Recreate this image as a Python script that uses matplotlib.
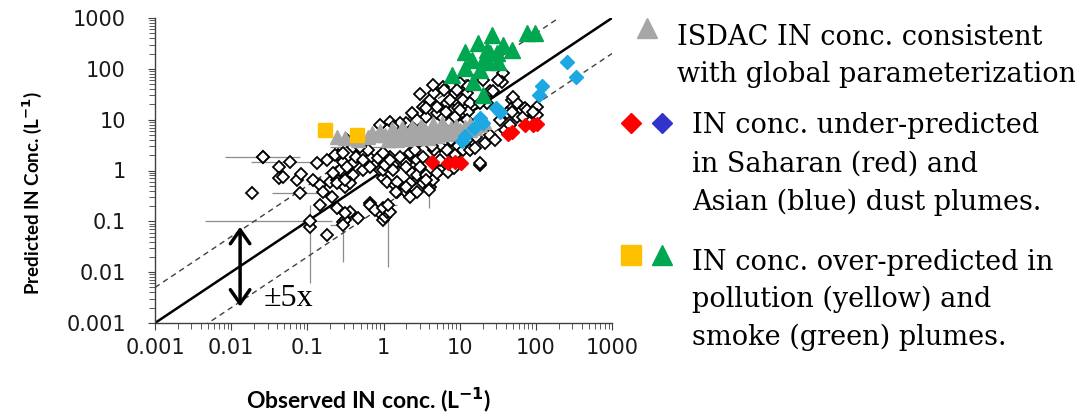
import numpy as np
import matplotlib
matplotlib.use("Agg")
import matplotlib.pyplot as plt
from matplotlib.lines import Line2D

# ---- data (observed, predicted IN conc., L^-1) ----
obs_other = [0.026, 0.043, 0.042, 0.048, 0.073, 0.082, 0.0185, 0.133, 0.18, 0.25,
             0.118, 0.146, 0.16, 0.198, 0.245, 0.268, 0.146, 0.108, 0.18, 0.29,
             0.36, 0.46, 0.70, 0.90, 0.98, 0.535, 0.362, 0.245, 0.40, 0.90,
             0.98, 0.66, 1.04, 0.31, 0.23, 0.29, 0.40, 0.216, 0.245, 0.31,
             0.36, 0.21, 0.245, 0.31, 0.66, 0.77, 1.10, 0.98, 1.10, 1.41,
             1.50, 1.91, 2.22, 2.74, 3.3, 4.06, 4.4, 2.22, 2.36, 2.74,
             3.6, 1.21, 1.64, 2.0, 2.74, 1.32, 5.5, 5.5, 0.535, 0.66,
             1.04, 1.32, 1.50, 2.0, 3.6, 5.0, 7.0, 8.3, 18.4, 0.98,
             1.21, 1.45, 6.0, 8.6, 6.9, 8.1, 4.06, 3.3, 5.0, 3.6,
             6.0, 7.4, 2.74, 2.0, 1.64, 1.21, 1.32, 1.10, 0.90, 0.33,
             0.40, 0.29, 0.44, 0.62, 0.535, 0.84, 0.98, 1.21, 1.64, 2.22,
             2.6, 3.3, 0.33, 0.66, 2.0, 3.0, 37, 36, 25, 20,
             48, 48, 56, 71, 103, 88, 56, 42, 10.1, 9.2,
             12.5, 11, 7.4, 13.6, 9.5, 12.9, 8.6, 22.7, 12.5, 32,
             12.9, 6.3, 4.6, 5.0, 3.6, 6.6, 10.1, 50, 48, 103,
             67, 18.4, 27, 2.4, 3.3, 18.4, 16.6, 24.9, 12.5, 6.3,
             7.8, 9.5, 11, 13.6, 5.5, 4.6, 6.9, 8.6, 3.9, 4.3,
             15.8, 21.4, 29, 39, 45.6, 33.7, 76, 91, 4.4, 3.0]
pred_other = [1.85, 1.18, 0.71, 0.74, 0.65, 0.86, 0.36, 1.42, 1.62, 2.0,
              0.65, 0.52, 0.375, 0.59, 0.74, 1.03, 0.21, 0.078, 0.054, 0.098,
              0.15, 0.117, 0.195, 0.149, 0.107, 1.03, 0.82, 0.65, 0.82, 1.03,
              0.71, 0.227, 0.122, 0.107, 2.0, 1.48, 1.42, 0.90, 0.57, 0.47,
              0.57, 0.30, 0.186, 0.149, 0.21, 0.17, 0.155, 1.03, 0.59, 0.52,
              0.375, 0.39, 0.30, 0.375, 0.57, 0.47, 0.65, 0.57, 0.90, 0.82,
              0.82, 1.85, 1.48, 1.42, 1.62, 1.29, 1.03, 1.62, 2.19, 1.77,
              1.29, 1.03, 0.59, 0.47, 0.65, 0.90, 0.94, 1.13, 1.29, 0.186,
              0.155, 0.375, 43, 34, 21, 15.6, 24.5, 17.8, 13.6, 11.3,
              10.8, 9.0, 9.9, 8.65, 8.65, 9.05, 7.2, 6.3, 7.9, 4.0,
              2.86, 2.19, 1.85, 2.5, 1.62, 1.77, 2.19, 1.62, 1.85, 2.19,
              2.5, 1.85, 1.18, 1.18, 1.18, 1.18, 84, 56, 36, 61,
              24.5, 17, 21, 17, 18, 13.6, 11.3, 13.6, 53, 38,
              34, 24.5, 24.5, 21.4, 17, 14.3, 11.3, 21.4, 9.9, 61,
              45, 39, 34, 17.8, 17, 14.3, 15.6, 28, 14.3, 12.4,
              11.3, 21.4, 36, 13.6, 6.3, 1.42, 4.6, 5.0, 4.0, 5.0,
              4.0, 3.1, 2.5, 2.5, 3.1, 2.5, 2.5, 2.0, 4.0, 3.1,
              2.74, 3.5, 4.0, 6.3, 7.9, 9.9, 15.6, 14.3, 49, 32]

# points with error bars (observed, predicted, ranges)
err_obs = [0.026, 0.059, 0.080, 0.108, 0.29, 1.14, 3.9, 0.49, 0.31]
err_pred = [1.85, 1.48, 0.36, 0.10, 0.085, 0.21, 0.41, 2.9, 0.65]
err_obs_lo = [0.0083, 0.018, 0.034, 0.0045, 0.20, 1.04, 3.9, 0.20, 0.20]
err_obs_hi = [0.080, 0.133, 0.198, 0.21, 0.31, 1.50, 3.9, 1.41, 0.42]
err_pred_lo = [1.85, 1.48, 0.36, 0.0061, 0.016, 0.0126, 0.18, 2.9, 0.65]
err_pred_hi = [1.85, 1.48, 0.36, 0.21, 0.117, 0.29, 0.60, 2.9, 0.65]

# ISDAC (gray triangles)
obs_isdac = [0.245, 0.40, 0.62, 0.84, 1.04, 1.21, 1.41, 1.64, 1.91, 2.22,
             2.6, 3.0, 3.5, 3.8, 4.4, 4.9, 5.5, 6.2, 6.9, 7.8,
             8.9, 10.1, 11.7, 13.6, 15.8, 18.4, 20.8, 1.16, 1.5, 2.0,
             2.74, 3.8, 5.1, 6.6, 8.3, 11, 13.6, 0.90, 1.29, 1.76,
             2.36, 3.15, 4.4, 5.9, 0.70, 0.50, 0.31, 0.46]
pred_isdac = [4.6, 4.6, 4.6, 5.0, 5.0, 4.6, 5.5, 4.8, 5.75, 5.0,
              6.0, 5.25, 6.3, 5.0, 6.6, 5.5, 6.3, 7.2, 6.0, 6.9,
              7.5, 6.3, 7.2, 8.3, 6.9, 7.9, 9.0, 4.0, 4.0, 4.2,
              4.4, 4.4, 4.8, 5.25, 5.5, 5.75, 6.3, 6.0, 6.6, 6.9,
              7.2, 7.5, 8.3, 8.65, 5.5, 4.8, 4.4, 4.0]

# Saharan dust (red diamonds)
obs_sahara = [4.3, 7.0, 8.6, 10.4, 43, 48, 72, 91, 103]
pred_sahara = [1.48, 1.41, 1.48, 1.41, 5.25, 5.75, 7.9, 7.9, 8.3]

# Asian dust (blue diamonds)
obs_asia = [255, 335, 120, 110, 29.9, 33.7, 18.4, 20.1, 15.3, 11.7, 10.7]
pred_asia = [137, 70, 46, 31, 17, 14.3, 10.8, 8.6, 6.9, 4.8, 3.8]

# pollution (yellow squares)
obs_pollution = [0.17, 0.45]
pred_pollution = [6.3, 5.0]

# smoke (green triangles)
obs_smoke = [76, 97, 26.5, 17.3, 11.7, 22.7, 36.9, 48.4, 14.5, 21.4,
             30.8, 31.7, 11.7, 18.4, 7.9, 14.9, 20.1, 24.9, 23.4]
pred_smoke = [512, 512, 467, 325, 216, 237, 297, 237, 150, 172,
              206, 137, 105, 96, 76, 55, 31, 206, 137]

# reference lines: 1:1 and factor of 5
line_x = [1e-3, 1e3]
factor = 5

tick_vals = [1e-3, 1e-2, 1e-1, 1, 10, 100, 1000]
tick_labels = ["0.001", "0.01", "0.1", "1", "10", "100", "1000"]

GRAY = "#a6a6a6"
GREEN = "#00a650"
RED = "#ff0000"
LBLUE = "#1ca8e3"
DBLUE = "#3333cc"
YELLOW = "#ffc000"

fig = plt.figure(figsize=(10.75, 4.17), dpi=100)
W, H = 1075, 417
ax = fig.add_axes([155 / W, 94 / H, 457 / W, 305 / H])
ax.set_xscale("log")
ax.set_yscale("log")
ax.set_xlim(1e-3, 1e3)
ax.set_ylim(1e-3, 1e3)

# reference lines
lx = np.array(line_x)
ax.plot(lx, lx, color="black", lw=1.8, zorder=2)
ax.plot(lx, lx * factor, color="#404040", lw=1.0, ls=(0, (4, 3)), zorder=2)
ax.plot(lx, lx / factor, color="#404040", lw=1.0, ls=(0, (4, 3)), zorder=2)

# error bars
eo = np.array(err_obs)
ep = np.array(err_pred)
xerr = [eo - np.array(err_obs_lo), np.array(err_obs_hi) - eo]
yerr = [ep - np.array(err_pred_lo), np.array(err_pred_hi) - ep]
ax.errorbar(eo, ep, xerr=xerr, yerr=yerr, fmt="none", ecolor="#8c8c8c",
            elinewidth=0.9, capsize=0, zorder=1)

# black open diamonds
ax.plot(obs_other + err_obs, pred_other + err_pred, ls="none", marker="D",
        ms=6.3, mfc="white", mec="black", mew=1.3, zorder=3)

ax.plot(obs_isdac, pred_isdac, ls="none", marker="^", ms=10.5, color=GRAY,
        mec=GRAY, zorder=4)
ax.plot(obs_sahara, pred_sahara, ls="none", marker="D", ms=7, color=RED,
        mec=RED, zorder=4)
ax.plot(obs_asia, pred_asia, ls="none", marker="D", ms=7, color=LBLUE,
        mec=LBLUE, zorder=4)
ax.plot(obs_pollution, pred_pollution, ls="none", marker="s", ms=9.5,
        color=YELLOW, mec=YELLOW, zorder=4)
ax.plot(obs_smoke, pred_smoke, ls="none", marker="^", ms=11, color=GREEN,
        mec=GREEN, zorder=4)

# +-5x arrow and label
ax.annotate("", xy=(0.0131, 0.078), xytext=(0.0131, 0.0021),
            arrowprops=dict(arrowstyle="<->,head_length=0.5,head_width=0.35",
                            lw=2.5, color="black", mutation_scale=20,
                            shrinkA=0, shrinkB=0), zorder=5)
ax.text(0.027, 0.0031, "\u00b15x", fontsize=23, family="Liberation Serif",
        va="center", ha="left")

# axes styling
for s in ("top", "right"):
    ax.spines[s].set_visible(False)
for s in ("left", "bottom"):
    ax.spines[s].set_color("#404040")
    ax.spines[s].set_linewidth(1.0)
ax.set_xticks(tick_vals)
ax.set_xticklabels(tick_labels)
ax.set_yticks(tick_vals)
ax.set_yticklabels(tick_labels)
ax.tick_params(which="major", direction="out", length=5, width=0.8,
               color="#404040", labelsize=15)
ax.tick_params(axis="y", which="major", pad=16)
ax.tick_params(axis="x", which="major", pad=6)
ax.tick_params(which="minor", direction="out", length=4, width=0.6,
               color="#404040")
ax.xaxis.set_minor_locator(matplotlib.ticker.LogLocator(base=10, subs=np.arange(2, 10), numticks=20))
ax.yaxis.set_minor_locator(matplotlib.ticker.LogLocator(base=10, subs=np.arange(2, 10), numticks=20))
ax.xaxis.set_minor_formatter(matplotlib.ticker.NullFormatter())
ax.yaxis.set_minor_formatter(matplotlib.ticker.NullFormatter())
for lab in ax.get_xticklabels() + ax.get_yticklabels():
    lab.set_family("DejaVu Sans")
    lab.set_color("#1a1a1a")

fig.text(369 / W, 1 - 400 / H, "Observed IN conc. (L$^{\\mathbf{-1}}$)",
         fontsize=16.5, fontweight="bold", family="Lato", ha="center", va="center")
fig.text(32 / W, 1 - 193 / H, "Predicted IN Conc. (L$^{\\mathbf{-1}}$)",
         fontsize=13.5, fontweight="bold", family="Lato", ha="center", va="center",
         rotation=90)

# right-hand annotations
serif = dict(fontsize=19.5, family="DejaVu Serif", color="black", va="baseline")
lines1 = ["ISDAC IN conc. consistent", "with global parameterization"]
lines2 = ["IN conc. under-predicted", "in Saharan (red) and", "Asian (blue) dust plumes."]
lines3 = ["IN conc. over-predicted in", "pollution (yellow) and", "smoke (green) plumes."]
for txt, yb in zip(lines1, [45, 82]):
    fig.text(677 / W, 1 - yb / H, txt, **serif)
for txt, yb in zip(lines2, [133, 172, 210]):
    fig.text(692 / W, 1 - yb / H, txt, **serif)
for txt, yb in zip(lines3, [270, 307, 345]):
    fig.text(692 / W, 1 - yb / H, txt, **serif)

legend_marks = [(647, 28, "^", GRAY, 15), (631, 123, "D", RED, 10.5),
                (662, 123, "D", DBLUE, 10.5), (631, 255, "s", YELLOW, 15),
                (662, 255, "^", GREEN, 15)]
for px, py, m, c, ms in legend_marks:
    fig.add_artist(Line2D([px / W], [1 - py / H], transform=fig.transFigure,
                          marker=m, ms=ms, color=c, mec=c, ls="none"))

fig.savefig("out.png", dpi=100)
